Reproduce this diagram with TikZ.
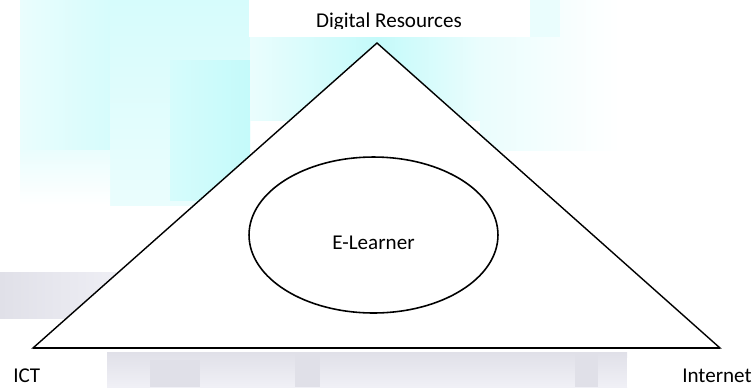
\documentclass[tikz,border=0pt]{standalone}
\usepackage{fontspec}
\setmainfont{Carlito}
\usetikzlibrary{shapes.geometric,positioning}
\definecolor{cyA}{RGB}{234,253,253}
\definecolor{cyB}{RGB}{214,252,252}
\definecolor{cyC}{RGB}{196,250,250}
\definecolor{gyA}{RGB}{240,240,246}
\definecolor{gyB}{RGB}{224,224,232}

\begin{document}
\begin{tikzpicture}[x=0.02cm,y=-0.02cm,
  every node/.style={font=\fontsize{12}{14}\selectfont},
  tri/.style={line width=0.8pt,line join=miter},
  blob/.style={draw=none},
  lbl/.style={inner sep=0pt,anchor=base west}]
\useasboundingbox (0,0) rectangle (754,387);
%------------- faded backdrop
\shade[blob,left color=cyA,right color=cyB] (20,0) rectangle (110,205);
\shade[blob,top color=cyB,bottom color=cyA] (110,0) rectangle (250,205);
\shade[blob,left color=cyB,right color=cyC] (170,60) rectangle (250,200);
\shade[blob,top color=cyA,bottom color=white] (20,150) rectangle (110,205);
\shade[blob,left color=cyA,right color=cyC] (250,37) rectangle (377,120);
\shade[blob,left color=cyC,right color=cyA] (377,37) rectangle (480,120);
\shade[blob,left color=cyA,right color=white] (480,0) rectangle (620,150);
\fill[blob,cyA] (530,0) rectangle (560,37);
\shade[blob,left color=gyB,right color=gyA] (0,272) rectangle (130,318);
\shade[blob,top color=gyB,bottom color=gyA] (107,352) rectangle (627,387);
\fill[blob,gyB] (150,360) rectangle (200,387);
\fill[blob,gyB] (295,352) rectangle (320,387);
\fill[blob,gyB] (575,352) rectangle (598,387);
% white label patches
\fill[white] (249,0) rectangle (530,37);
\fill[white] (0,357) rectangle (107,387);
\fill[white] (627,358) rectangle (754,387);
%------------- triangle
\coordinate (apex) at (377,43);
\coordinate (ict) at (33,348);
\coordinate (net) at (720,348);
\filldraw[tri,fill=white] (apex) -- (net) -- (ict) -- cycle;
\draw[tri,line width=1.2pt] (ict) -- (net);
%------------- learner in the middle
\node[ellipse,draw,line width=0.9pt,minimum width=4.98cm,minimum height=3.12cm,inner sep=0pt] (learner) at (373.5,235) {};
\node[lbl,anchor=base] (elabel) at (373.5,249) {E-Learner};
%------------- corner labels
\begin{scope}
\clip (249,0) rectangle (530,28);
\node[lbl,anchor=base] (digres) at (389,27) {Digital Resources};
\end{scope}
\node[lbl] (ictlbl) at (13,382) {ICT};
\node[lbl,anchor=base east] (netlbl) at (752,382) {Internet};
\end{tikzpicture}
\end{document}
